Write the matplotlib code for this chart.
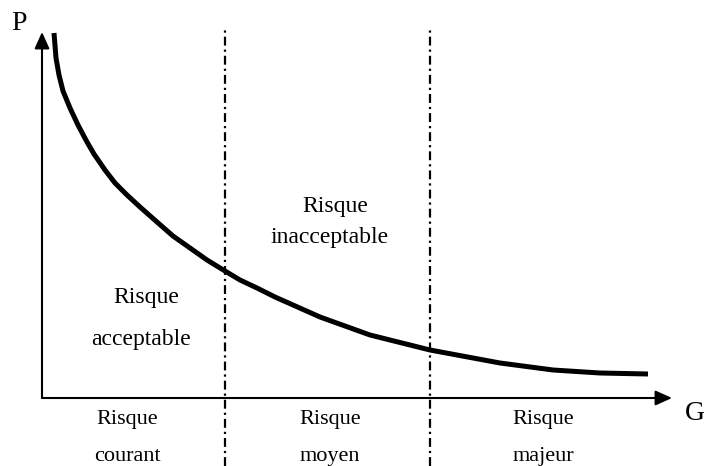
import matplotlib
matplotlib.use("Agg")
import matplotlib.pyplot as plt

plt.rcParams['font.family'] = ['Liberation Serif', 'DejaVu Serif']

# curve (G, P), origin at the axes corner
curve_g = [12, 14, 17, 21, 28, 36, 45, 52, 63, 73, 85, 98, 115, 131, 148, 165, 183,
           198, 215, 233, 278, 328, 388, 458, 511, 558, 606]
curve_p = [365, 340, 323, 307, 290, 273, 256, 244, 228, 215, 203, 191, 176, 162, 150, 138, 127,
           118, 110, 101, 81, 63, 48, 35, 28, 25, 24]

# zone boundaries on the G axis
bounds_g = [183, 388]

zone_names = ["courant", "moyen", "majeur"]
zone_label_g = [85, 288, 501]

g_max = 630
p_max = 366

fig = plt.figure(figsize=(7.04, 4.66), dpi=100)
ax = fig.add_axes([0, 0, 1, 1])
ax.set_xlim(-42, 662)
ax.set_ylim(-68, 398)
ax.axis('off')

# axes with arrow heads
arrow = dict(arrowstyle='-|>,head_length=1.0,head_width=0.45', mutation_scale=10,
             color='black', lw=1.5, shrinkA=0, shrinkB=0)
ax.annotate('', xy=(0, p_max), xytext=(0, 0), arrowprops=arrow)
ax.annotate('', xy=(g_max, 0), xytext=(0, 0), arrowprops=arrow)

# zone separators
for g in bounds_g:
    ax.plot([g, g], [-68, 368], color='black', lw=1.6, linestyle=(0, (4, 1.8, 1, 1.8)))

# acceptability curve
ax.plot(curve_g, curve_p, color='black', lw=3.6, solid_joinstyle='round', solid_capstyle='butt')

ax.text(-23, 374, 'P', fontsize=20, ha='center', va='center')
ax.text(653, -15, 'G', fontsize=20, ha='center', va='center')

ax.text(293, 186, 'Risque', fontsize=17, ha='center', va='baseline')
ax.text(288, 155, 'inacceptable', fontsize=17, ha='center', va='baseline')
ax.text(104, 95, 'Risque', fontsize=17, ha='center', va='baseline')
ax.text(99, 53, 'acceptable', fontsize=17, ha='center', va='baseline')

for g, name in zip(zone_label_g, zone_names):
    ax.text(g, -26, 'Risque', fontsize=16, ha='center', va='baseline')
    ax.text(g, -63, name, fontsize=16, ha='center', va='baseline')

fig.savefig('out.png', dpi=100)
